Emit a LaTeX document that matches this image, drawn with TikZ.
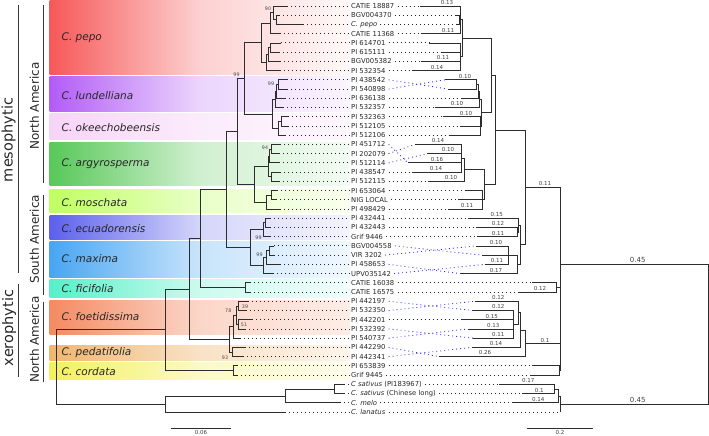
\documentclass[tikz,border=0pt]{standalone}
\usepackage{fontspec}
\setmainfont{DejaVu Sans}
\usetikzlibrary{positioning}

\definecolor{barGray}{RGB}{55,55,55}
\definecolor{treeGray}{RGB}{45,45,45}
\definecolor{crossBlue}{RGB}{45,45,235}
\definecolor{cPepo}{RGB}{247,88,88}
\definecolor{cLund}{RGB}{178,92,246}
\definecolor{cOkee}{RGB}{247,212,247}
\definecolor{cArgy}{RGB}{88,200,88}
\definecolor{cMosc}{RGB}{192,255,96}
\definecolor{cEcua}{RGB}{92,96,236}
\definecolor{cMaxi}{RGB}{72,165,242}
\definecolor{cFici}{RGB}{86,240,200}
\definecolor{cFoet}{RGB}{244,138,98}
\definecolor{cPeda}{RGB}{240,182,112}
\definecolor{cCord}{RGB}{244,240,92}

\begin{document}
\begin{tikzpicture}[x=1pt,y=1pt,yscale=-1,xscale=1,
    branch/.style={draw=treeGray,line width=0.8pt},
    dotlink/.style={draw=black!85,line width=0.85pt,dash pattern=on 0.9pt off 3.1pt},
    bluelink/.style={draw=crossBlue,line width=0.85pt,dash pattern=on 0.9pt off 3.1pt},
    leaflab/.style={anchor=west,inner sep=1pt,text=black!85,font=\fontsize{6.8}{8}\selectfont},
    bootlab/.style={inner sep=0pt,text=black!70,font=\fontsize{4.8}{5.5}\selectfont},
    lenlab/.style={inner sep=0pt,text=black!75,font=\fontsize{5.5}{6.5}\selectfont},
    cladelab/.style={anchor=west,inner sep=0pt,text=black!85,font=\fontsize{10.5}{12}\selectfont\itshape},
    zonelab/.style={rotate=90,inner sep=0pt,text=black!85},
    zonebar/.style={draw=barGray,line width=1.3pt}
  ]
  \useasboundingbox (0,0) rectangle (709,436);

  %Shape: Bands
  \shade [left color=cPepo, right color=cPepo!4, middle color=cPepo!28] (49.5,1) rectangle (350,74);
  \shade [left color=cLund, right color=cLund!6, middle color=cLund!26] (49.5,76.5) rectangle (350,111);
  \shade [left color=cOkee, right color=cOkee!20, middle color=cOkee!45] (49.5,113.5) rectangle (350,139.5);
  \shade [left color=cArgy, right color=cArgy!7, middle color=cArgy!28] (49.5,142) rectangle (350,185.5);
  \shade [left color=cMosc, right color=cMosc!10, middle color=cMosc!35] (49.5,189) rectangle (350,212.5);
  \shade [left color=cEcua, right color=cEcua!7, middle color=cEcua!26] (49.5,215) rectangle (350,239.5);
  \shade [left color=cMaxi, right color=cMaxi!8, middle color=cMaxi!30] (49.5,241.5) rectangle (350,277.5);
  \shade [left color=cFici, right color=cFici!8, middle color=cFici!30] (49.5,279.5) rectangle (350,297.5);
  \shade [left color=cFoet, right color=cFoet!15, middle color=cFoet!35] (49.5,300) rectangle (350,334);
  \shade [left color=cPeda, right color=cPeda!15, middle color=cPeda!40] (49.5,345) rectangle (350,360);
  \shade [left color=cCord, right color=cCord!12, middle color=cCord!35] (49.5,362.5) rectangle (350,379.5);

  % Text Node
  \node [cladelab] (sPepo) at (61.5,37.7) {C. pepo};
  \node [cladelab] (sLund) at (61.5,95.7) {C. lundelliana};
  \node [cladelab] (sOkee) at (61.5,127.7) {C. okeechobeensis};
  \node [cladelab] (sArgy) at (61.5,164) {C. argyrosperma};
  \node [cladelab] (sMosc) at (61.5,202.3) {C. moschata};
  \node [cladelab] (sEcua) at (61.5,228.3) {C. ecuadorensis};
  \node [cladelab] (sMaxi) at (61.5,259) {C. maxima};
  \node [cladelab] (sFici) at (61.5,289) {C. ficifolia};
  \node [cladelab] (sFoet) at (61.5,316.7) {C. foetidissima};
  \node [cladelab] (sPeda) at (61.5,352.3) {C. pedatifolia};
  \node [cladelab] (sCord) at (61.5,371.7) {C. cordata};

  %Straight Lines: group bars
  \draw [zonebar] (18.3,5) -- (18.3,273);
  \draw [zonebar] (18.3,284) -- (18.3,377);
  \draw [zonebar] (43.3,5) -- (43.3,183);
  \draw [zonebar] (43.3,195) -- (43.3,295);
  \draw [zonebar] (43.3,302) -- (43.3,382);

  % Text Node
  \node [zonelab,font=\fontsize{14.5}{16}\selectfont] (zMeso) at (8.5,140) {mesophytic};
  \node [zonelab,font=\fontsize{14.5}{16}\selectfont] (zXero) at (9,328) {xerophytic};
  \node [zonelab,font=\fontsize{12}{14}\selectfont] (zNA1) at (34.5,106) {North America};
  \node [zonelab,font=\fontsize{12}{14}\selectfont] (zSA) at (34.5,239) {South America};
  \node [zonelab,font=\fontsize{12}{14}\selectfont] (zNA2) at (34.5,339.5) {North America};

  % Leaves: label, left tip, right tip
  \foreach \i/\lab/\xl/\xr in {
      0/CATIE 18887/287/420, 1/BGV004370/279/456, 2/\textit{C. pepo}/303/457,
      3/CATIE 11368/280/421, 4/PI 614701/281/429, 5/PI 615111/279/442,
      6/BGV005382/280/421, 7/PI 532354/280/412, 8/PI 438542/287/445,
      9/PI 540898/287/448, 10/PI 636138/285/462, 11/PI 532357/283/435,
      12/PI 532363/288/443, 13/PI 512105/288/460, 14/PI 512106/285/450,
      15/PI 451712/280/415, 16/PI 202079/279/427, 17/PI 512114/279/408,
      18/PI 438547/280/412, 19/PI 512115/279/428, 20/PI 653064/277/466,
      21/NIG LOCAL/276/458, 22/PI 498429/280/448, 23/PI 432441/270/468,
      24/PI 432443/270/476, 25/Grif 9446/270/477, 26/BGV004558/274/476,
      27/VIR 3202/274/482, 28/PI 458653/280/485, 29/UPV035142/273/460,
      30/CATIE 16038/250/532, 31/CATIE 16575/250/518, 32/PI 442197/248/475,
      33/PI 532350/246/473, 34/PI 442201/252/462, 35/PI 532392/245/468,
      36/PI 540737/240/473, 37/PI 442290/245/472, 38/PI 442341/243/439,
      39/PI 653839/237/532, 40/Grif 9445/237/530,
      41/\textit{C sativus} (PI183967)/344/499,
      42/\textit{C. sativus} (Chinese long)/344/522,
      43/\textit{C. melo}/340/513, 44/\textit{C. lanatus}/285/560}{
    \node [leaflab] (l\i) at (350,{6+9.227*\i}) {\lab};
    \coordinate (tL\i) at (\xl,{6+9.227*\i});
    \coordinate (tR\i) at (\xr,{6+9.227*\i});
  }

  %Dotted Lines
  \foreach \i in {0,...,44} \draw [dotlink] (tL\i) -- (l\i.west);
  \foreach \i in {0,...,7,10,11,12,13,14,18,19,...,25,30,31,34,39,40,...,44}
    \draw [dotlink] ([xshift=2pt]l\i.east) -- (tR\i);
  \foreach \i/\j in {8/9,9/8,15/17,16/15,17/16,26/27,27/26,28/29,29/28,32/33,33/32,35/36,36/35,37/38,38/37}
    \draw [bluelink] ([xshift=2pt]l\i.east) -- (tR\j);

  % Left tree
  \coordinate (p2) at (276,19.9);
  \coordinate (p1) at (273.3,12.9);
  \coordinate (p0) at (270,23.3);
  \coordinate (p3) at (270.5,47.5);
  \coordinate (p4) at (268.3,54.4);
  \coordinate (p5) at (266.3,62.5);
  \coordinate (pA) at (261,42.9);
  \coordinate (q1) at (278.3,84.4);
  \coordinate (q2) at (276.7,91.3);
  \coordinate (q3) at (275,99.4);
  \coordinate (q4) at (281.7,121.3);
  \coordinate (q5) at (278.3,128.3);
  \coordinate (q6) at (272.7,113.9);
  \coordinate (pB) at (244.3,78.4);
  \coordinate (r1) at (271,149);
  \coordinate (r2) at (269.5,155.9);
  \coordinate (r3) at (271,176.7);
  \coordinate (r4) at (268.3,166.3);
  \coordinate (s1) at (271.7,195.2);
  \coordinate (s2) at (266.7,202.1);
  \coordinate (pD) at (254,184.2);
  \coordinate (pC) at (237.3,131.3);
  \coordinate (t1) at (265,222.8);
  \coordinate (t2) at (263.3,229.7);
  \coordinate (u1) at (269.3,250.5);
  \coordinate (u2) at (266.7,257.5);
  \coordinate (u3) at (263.3,265.5);
  \coordinate (pE) at (250,247.6);
  \coordinate (pF) at (226.7,189.5);
  \coordinate (v1) at (245,287.4);
  \coordinate (pG) at (200,238.5);
  \coordinate (w1) at (238.3,305.9);
  \coordinate (w2) at (238.3,324.4);
  \coordinate (w3) at (236,315.1);
  \coordinate (w4) at (233.3,326.7);
  \coordinate (w5) at (232.7,352);
  \coordinate (w6) at (229.3,339.3);
  \coordinate (pH) at (189,288.9);
  \coordinate (c1) at (233,370.5);
  \coordinate (pX) at (165.7,329.7);
  \coordinate (o1) at (334,388.9);
  \coordinate (o2) at (285,395.9);
  \coordinate (o3) at (165,403.9);
  \coordinate (root) at (56.7,366.8);

  \draw [branch] (p2) |- (tL1) (p2) |- (tL2) (p1) |- (tL0) (p1) |- (p2)
    (p0) |- (p1) (p0) |- (tL3) (p3) |- (tL4) (p3) |- (tL5) (p4) |- (p3) (p4) |- (tL6)
    (p5) |- (p4) (p5) |- (tL7) (pA) |- (p0) (pA) |- (p5);
  \draw [branch] (q1) |- (tL8) (q1) |- (tL9) (q2) |- (q1) (q2) |- (tL10)
    (q3) |- (q2) (q3) |- (tL11) (q4) |- (tL12) (q4) |- (tL13) (q5) |- (q4) (q5) |- (tL14)
    (q6) |- (q3) (q6) |- (q5) (pB) |- (pA) (pB) |- (q6);
  \draw [branch] (r1) |- (tL15) (r1) |- (tL16) (r2) |- (r1) (r2) |- (tL17)
    (r3) |- (tL18) (r3) |- (tL19) (r4) |- (r2) (r4) |- (r3)
    (s1) |- (tL20) (s1) |- (tL21) (s2) |- (s1) (s2) |- (tL22)
    (pD) |- (r4) (pD) |- (s2) (pC) |- (pB) (pC) |- (pD);
  \draw [branch] (t1) |- (tL23) (t1) |- (tL24) (t2) |- (t1) (t2) |- (tL25)
    (u1) |- (tL26) (u1) |- (tL27) (u2) |- (u1) (u2) |- (tL28) (u3) |- (u2) (u3) |- (tL29)
    (pE) |- (t2) (pE) |- (u3) (pF) |- (pC) (pF) |- (pE)
    (v1) |- (tL30) (v1) |- (tL31) (pG) |- (pF) (pG) |- (v1);
  \draw [branch] (w1) |- (tL32) (w1) |- (tL33) (w2) |- (tL34) (w2) |- (tL35)
    (w3) |- (w1) (w3) |- (w2) (w4) |- (w3) (w4) |- (tL36)
    (w5) |- (tL37) (w5) |- (tL38) (w6) |- (w4) (w6) |- (w5)
    (pH) |- (pG) (pH) |- (w6) (c1) |- (tL39) (c1) |- (tL40) (pX) |- (pH) (pX) |- (c1);
  \draw [branch] (o1) |- (tL41) (o1) |- (tL42) (o2) |- (o1) (o2) |- (tL43)
    (o3) |- (o2) (o3) |- (tL44) (root) |- (pX) (root) |- (o3);

  % Right tree
  \coordinate (RP1) at (459,19.9);
  \coordinate (RPa) at (460.5,19.85);
  \coordinate (RPb) at (460.5,56.75);
  \coordinate (RP) at (462,38.3);
  \coordinate (RL1) at (476.7,84.4);
  \coordinate (RL2) at (478,91.3);
  \coordinate (RL3) at (479,99.4);
  \coordinate (RL4) at (480,126);
  \coordinate (RL) at (481.5,112.7);
  \coordinate (RD) at (491.7,75.5);
  \coordinate (RA1) at (461,158.2);
  \coordinate (RA) at (464,169.8);
  \coordinate (RM) at (482.5,199.8);
  \coordinate (RAM) at (484,184.8);
  \coordinate (RB) at (495,130.2);
  \coordinate (RE1) at (517,232);
  \coordinate (RE) at (518.5,225.1);
  \coordinate (RX1) at (508.5,255.1);
  \coordinate (RX) at (517.3,264.4);
  \coordinate (RCc) at (520,244.7);
  \coordinate (RAa) at (525.7,187.4);
  \coordinate (RF) at (556.7,287.4);
  \coordinate (RF1) at (513.3,324.4);
  \coordinate (RF2) at (518.3,312.8);
  \coordinate (RF3) at (520,330.1);
  \coordinate (RFo) at (525.7,343.4);
  \coordinate (RC) at (559.3,370.5);
  \coordinate (RN) at (560,264.3);
  \coordinate (RO1) at (554.3,388.9);
  \coordinate (RO2) at (558,395.9);
  \coordinate (RO) at (560,404);
  \coordinate (RR) at (708.3,334.2);

  \draw [branch] (RP1) |- (tR1) (RP1) |- (tR2) (RPa) |- (tR0) (RPa) |- (RP1) (RPa) |- (tR3)
    (RPb) |- (tR4) (RPb) |- (tR5) (RPb) |- (tR6) (RPb) |- (tR7) (RP) |- (RPa) (RP) |- (RPb);
  \draw [branch] (RL1) |- (tR8) (RL1) |- (tR9) (RL2) |- (RL1) (RL2) |- (tR10)
    (RL3) |- (RL2) (RL3) |- (tR11) (RL4) |- (tR12) (RL4) |- (tR13) (RL4) |- (tR14)
    (RL) |- (RL3) (RL) |- (RL4) (RD) |- (RP) (RD) |- (RL);
  \draw [branch] (RA1) |- (tR15) (RA1) |- (tR16) (RA1) |- (tR17) (RA1) |- (tR18)
    (RA) |- (RA1) (RA) |- (tR19) (RM) |- (tR20) (RM) |- (tR21) (RM) |- (tR22)
    (RAM) |- (RA) (RAM) |- (RM) (RB) |- (RD) (RB) |- (RAM);
  \draw [branch] (RE1) |- (tR24) (RE1) |- (tR25) (RE) |- (tR23) (RE) |- (RE1)
    (RX1) |- (tR26) (RX1) |- (tR27) (RX1) |- (tR28) (RX) |- (RX1) (RX) |- (tR29)
    (RCc) |- (RE) (RCc) |- (RX) (RAa) |- (RB) (RAa) |- (RCc);
  \draw [branch] (RF) |- (tR30) (RF) |- (tR31)
    (RF1) |- (tR33) (RF1) |- (tR34) (RF1) |- (tR35) (RF1) |- (tR36)
    (RF2) |- (tR32) (RF2) |- (RF1) (RF3) |- (RF2) (RF3) |- (tR37)
    (RFo) |- (RF3) (RFo) |- (tR38) (RC) |- (tR39) (RC) |- (tR40)
    (RN) |- (RAa) (RN) |- (RF) (RN) |- (RFo) (RN) |- (RC);
  \draw [branch] (RO1) |- (tR41) (RO1) |- (tR42) (RO2) |- (RO1) (RO2) |- (tR43)
    (RO) |- (RO2) (RO) |- (tR44) (RR) |- (RN) (RR) |- (RO);

  % Text Node: support values
  \foreach \n/\px/\py/\v in {1/268/9/90, 2/236.5/75/99, 3/271/84/99, 4/265/147.3/94,
      5/258.5/237.5/99, 6/259.5/254.3/99, 7/228.3/311/78, 8/245/307/39,
      9/244/325/51, 10/225/358/93}
    \node [bootlab] (bs\n) at (\px,\py) {\v};

  % Text Node: branch lengths
  \foreach \n/\px/\py/\v in {1/447/2.5/0.13, 2/448/30/0.11, 3/443/57.5/0.11, 4/437/67/0.14,
      5/465/76.5/0.10, 6/457/103.5/0.10, 7/466/113/0.10, 8/438/140.7/0.14,
      9/448/149.8/0.10, 10/437/159/0.16, 11/436/168.3/0.14, 12/451/177.5/0.10,
      13/467/205.3/0.11, 14/496.7/214.5/0.15, 15/498/223.7/0.12, 16/498/233/0.11,
      17/496/242.3/0.10, 18/497/260.7/0.11, 19/496/270/0.17, 20/545/183.3/0.11,
      21/540/288.3/0.12, 22/498.3/297.6/0.12, 23/498.3/306.8/0.12, 24/491.7/316/0.15,
      25/493.3/325.3/0.13, 26/498.3/334.5/0.11, 27/496/343.6/0.14, 28/485/352.9/0.26,
      29/545/340.6/0.1, 30/528.3/380.7/0.17, 31/539.3/390/0.1, 32/538.3/399.3/0.14}
    \node [lenlab] (bl\n) at (\px,\py) {\v};
  \node [lenlab,font=\fontsize{7}{8}\selectfont] (blRoot1) at (637.7,259.5) {0.45};
  \node [lenlab,font=\fontsize{7}{8}\selectfont] (blRoot2) at (637.7,399.5) {0.45};

  %Straight Lines: scale bars
  \coordinate (sbL1) at (170.7,428);
  \coordinate (sbL2) at (230.5,428);
  \coordinate (sbR1) at (526.7,428);
  \coordinate (sbR2) at (593.3,428);
  \draw [branch] (sbL1) -- (sbL2);
  \draw [branch] (sbR1) -- (sbR2);
  \node [lenlab,font=\fontsize{5.5}{6.5}\selectfont] (sbLtext) at (201,432.3) {0.06};
  \node [lenlab,font=\fontsize{5.5}{6.5}\selectfont] (sbRtext) at (560,432.3) {0.2};
\end{tikzpicture}
\end{document}
